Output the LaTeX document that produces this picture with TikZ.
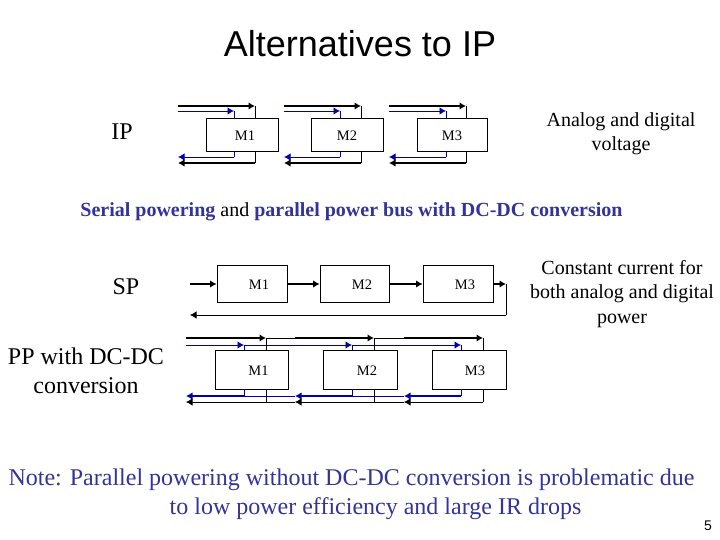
\documentclass[tikz,border=0pt]{standalone}
\usepackage{fontspec}
\usepackage{xcolor}
\setmainfont{Liberation Serif}
\setsansfont{Liberation Sans}
\usetikzlibrary{arrows.meta}
\definecolor{noteblue}{RGB}{51,51,153}
\definecolor{wireblue}{RGB}{0,0,170}
\tikzset{
    modbox/.style={draw, line width=0.8pt, inner sep=0pt},
    every label/.style={yshift=-1pt, font=\fontsize{14.5}{16}\selectfont},
    txt/.style={inner sep=0pt, align=center, font=\fontsize{20}{24.3}\selectfont},
    bigtxt/.style={inner sep=0pt, align=center, font=\fontsize{24}{28.5}\selectfont},
    wire/.style={line width=0.8pt},
    fat/.style={line width=2pt},
    bluewire/.style={line width=0.9pt, wireblue},
    bluefat/.style={line width=2pt, wireblue},
}
\begin{document}
\begin{tikzpicture}[x=1pt, y=-1pt, >={Latex[length=6.5pt,width=7.5pt]}]
        \useasboundingbox (0,0) rectangle (720,540);
        \node[inner sep=0pt, font=\sffamily\fontsize{36}{40}\selectfont] (title) at (360,43.5) {Alternatives to IP};
        \node[bigtxt] (ip) at (122,132) {IP};
        \node[txt] (ipnote) at (621,133.5) {Analog and digital\\voltage};
        \node[txt, font=\bfseries\fontsize{20}{24}\selectfont, text=noteblue] (head) at (351.5,212) {Serial powering \textcolor{black}{\mdseries and} parallel power bus with DC-DC conversion};
        \node[bigtxt] (sp) at (126,287) {SP};
        \node[txt] (spnote) at (622,294) {Constant current for\\both analog and digital\\power};
        \node[bigtxt] (pp) at (86,371) {PP with DC-DC\\conversion};
        \node[bigtxt, text=noteblue] (noteA) at (351.5,479.5) {Note: Parallel powering without DC-DC conversion is problematic due};
        \node[bigtxt, text=noteblue] (noteB) at (375.5,508.5) {to low power efficiency and large IR drops};
        \node[inner sep=0pt, font=\sffamily\fontsize{14}{16}\selectfont] (page) at (708,526) {5};

        % IP row
        \node[modbox, minimum width=72pt, minimum height=33pt, label={[xshift=3pt]center:M1}] (ipA) at (242,134.5) {};
        \node[modbox, minimum width=72pt, minimum height=33pt, label={center:M2}] (ipB) at (347,134.5) {};
        \node[modbox, minimum width=70pt, minimum height=33pt, label={center:M3}] (ipC) at (452,134.5) {};
        \coordinate (ipApow) at (255,106);
        \coordinate (ipAsig) at (234,111);
        \coordinate (ipAret) at (234,157);
        \coordinate (ipAgnd) at (255,163);
        \coordinate (ipBpow) at (361,106);
        \coordinate (ipBsig) at (340,111);
        \coordinate (ipBret) at (340,157);
        \coordinate (ipBgnd) at (361,163);
        \coordinate (ipCpow) at (466,106);
        \coordinate (ipCsig) at (446,111);
        \coordinate (ipCret) at (446,157);
        \coordinate (ipCgnd) at (466,163);
        \coordinate (ipAl) at (178,0);
        \coordinate (ipBl) at (284,0);
        \coordinate (ipCl) at (389,0);

        \draw[fat, ->] (ipAl |- ipApow) -- (ipApow);
        \draw[bluewire, ->] (ipAl |- ipAsig) -- (ipAsig);
        \draw[bluewire, ->] (ipAret) -- (ipAl |- ipAret);
        \draw[fat, ->] (ipAgnd) -- (ipAl |- ipAgnd);
        \draw[wire] (ipApow) -- (ipApow |- ipA.north);
        \draw[wire] (ipAgnd) -- (ipAgnd |- ipA.south);
        \draw[bluewire] (ipAsig) -- (ipAsig |- ipA.north);
        \draw[bluewire] (ipAret) -- (ipAret |- ipA.south);

        \draw[fat, ->] (ipBl |- ipBpow) -- (ipBpow);
        \draw[bluewire, ->] (ipBl |- ipBsig) -- (ipBsig);
        \draw[bluewire, ->] (ipBret) -- (ipBl |- ipBret);
        \draw[fat, ->] (ipBgnd) -- (ipBl |- ipBgnd);
        \draw[wire] (ipBpow) -- (ipBpow |- ipB.north);
        \draw[wire] (ipBgnd) -- (ipBgnd |- ipB.south);
        \draw[bluewire] (ipBsig) -- (ipBsig |- ipB.north);
        \draw[bluewire] (ipBret) -- (ipBret |- ipB.south);

        \draw[fat, ->] (ipCl |- ipCpow) -- (ipCpow);
        \draw[bluewire, ->] (ipCl |- ipCsig) -- (ipCsig);
        \draw[bluewire, ->] (ipCret) -- (ipCl |- ipCret);
        \draw[fat, ->] (ipCgnd) -- (ipCl |- ipCgnd);
        \draw[wire] (ipCpow) -- (ipCpow |- ipC.north);
        \draw[wire] (ipCgnd) -- (ipCgnd |- ipC.south);
        \draw[bluewire] (ipCsig) -- (ipCsig |- ipC.north);
        \draw[bluewire] (ipCret) -- (ipCret |- ipC.south);

        % SP row
        \node[modbox, minimum width=70pt, minimum height=37pt, label={[xshift=7pt]center:M1}] (spA) at (252,283.5) {};
        \node[modbox, minimum width=69pt, minimum height=37pt, label={[xshift=7.5pt]center:M2}] (spB) at (354.5,283.5) {};
        \node[modbox, minimum width=70pt, minimum height=37pt, label={[xshift=7pt]center:M3}] (spC) at (458,283.5) {};
        \coordinate (spin) at (190,284);
        \coordinate (spout) at (506,284);
        \coordinate (spback) at (506,315);
        \coordinate (spend) at (190,315);

        \draw[fat, ->] (spin) -- (spA.west |- spin);
        \draw[fat, ->] (spA.east |- spin) -- (spB.west |- spin);
        \draw[fat, ->] (spB.east |- spin) -- (spC.west |- spin);
        \draw[fat, ->] (spC.east |- spin) -- (spout);
        \draw[wire] (spout) -- (spback);
        \draw[wire, ->] (spback) -- (spend);

        % PP row
        \node[modbox, minimum width=73pt, minimum height=39pt, label={[xshift=7pt]center:M1}] (ppA) at (251.5,369.5) {};
        \node[modbox, minimum width=74pt, minimum height=39pt, label={[xshift=7pt]center:M2}] (ppB) at (360,369.5) {};
        \node[modbox, minimum width=74pt, minimum height=39pt, label={[xshift=6pt]center:M3}] (ppC) at (469,369.5) {};
        \coordinate (ppApow) at (266,338);
        \coordinate (ppBpow) at (374,338);
        \coordinate (ppCpow) at (483,338);
        \coordinate (ppAsig) at (244,345);
        \coordinate (ppBsig) at (352,345);
        \coordinate (ppCsig) at (461,345);
        \coordinate (ppAret) at (244,396);
        \coordinate (ppBret) at (352,396);
        \coordinate (ppCret) at (461,396);
        \coordinate (ppAgnd) at (266,402);
        \coordinate (ppBgnd) at (374,402);
        \coordinate (ppCgnd) at (483,402);
        \coordinate (ppl) at (186,0);
        \coordinate (ppm) at (295,0);
        \coordinate (ppn) at (404,0);

        \draw[fat, ->] (ppl |- ppApow) -- (ppApow);
        \draw[wire] (ppApow) -- (ppm |- ppApow);
        \draw[fat, ->] (ppm |- ppBpow) -- (ppBpow);
        \draw[wire] (ppBpow) -- (ppn |- ppBpow);
        \draw[fat, ->] (ppn |- ppCpow) -- (ppCpow);

        \draw[bluewire, ->] (ppl |- ppAsig) -- (ppAsig);
        \draw[bluewire, ->] (ppAsig) -- (ppBsig);
        \draw[bluewire, ->] (ppBsig) -- (ppCsig);

        \draw[bluefat, ->] (ppCret) -- (ppn |- ppCret);
        \draw[bluewire] (ppn |- ppCret) -- (ppBret);
        \draw[bluefat, ->] (ppBret) -- (ppm |- ppBret);
        \draw[bluewire] (ppm |- ppBret) -- (ppAret);
        \draw[bluefat, ->] (ppAret) -- (ppl |- ppAret);

        \draw[wire, ->] (ppCgnd) -- (ppn |- ppCgnd);
        \draw[wire, ->] (ppn |- ppCgnd) -- (ppm |- ppCgnd);
        \draw[wire, ->] (ppm |- ppCgnd) -- (ppl |- ppCgnd);

        \draw[wire] (ppApow) -- (ppApow |- ppA.north);
        \draw[wire] (ppBpow) -- (ppBpow |- ppB.north);
        \draw[wire] (ppCpow) -- (ppCpow |- ppC.north);
        \draw[wire] (ppAgnd) -- (ppAgnd |- ppA.south);
        \draw[wire] (ppBgnd) -- (ppBgnd |- ppB.south);
        \draw[wire] (ppCgnd) -- (ppCgnd |- ppC.south);
        \draw[bluewire] (ppAsig) -- (ppAsig |- ppA.north);
        \draw[bluewire] (ppBsig) -- (ppBsig |- ppB.north);
        \draw[bluewire] (ppCsig) -- (ppCsig |- ppC.north);
        \draw[bluewire] (ppAret) -- (ppAret |- ppA.south);
        \draw[bluewire] (ppBret) -- (ppBret |- ppB.south);
        \draw[bluewire] (ppCret) -- (ppCret |- ppC.south);
    \end{tikzpicture}
\end{document}
